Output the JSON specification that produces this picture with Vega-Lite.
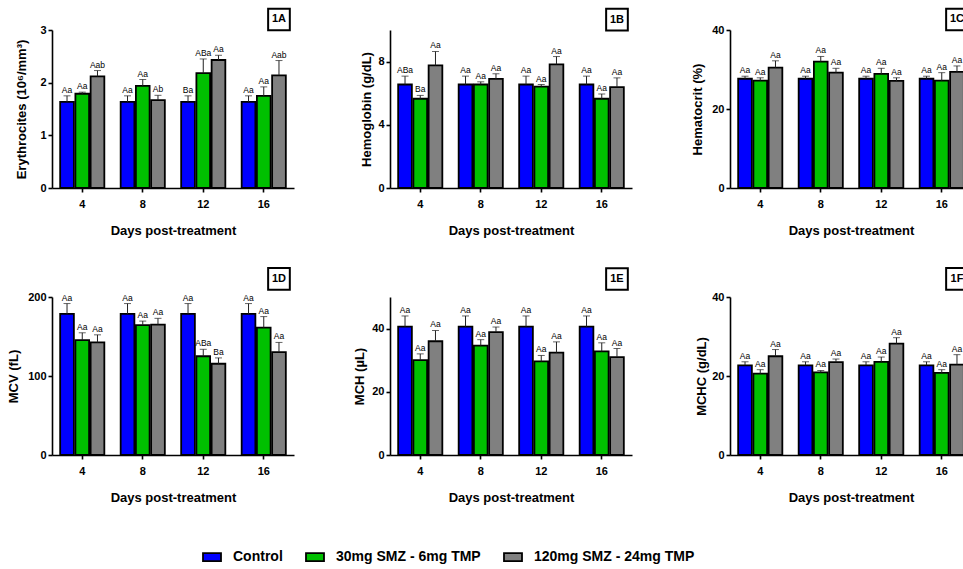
{
  "$schema": "https://vega.github.io/schema/vega-lite/v6.json",
  "padding": {"left": 7, "top": 4, "right": 0, "bottom": 0},
  "background": "white",
  "datasets": {
    "hemato": [
      {"panel": "A", "day": 4, "group": "Control", "mean": 1.635, "upper": 1.75, "letter": "Aa"},
      {"panel": "A", "day": 4, "group": "30mg SMZ - 6mg TMP", "mean": 1.79, "upper": 1.82, "letter": "Aa"},
      {"panel": "A", "day": 4, "group": "120mg SMZ - 24mg TMP", "mean": 2.12, "upper": 2.23, "letter": "Aab"},
      {"panel": "A", "day": 8, "group": "Control", "mean": 1.635, "upper": 1.75, "letter": "Aa"},
      {"panel": "A", "day": 8, "group": "30mg SMZ - 6mg TMP", "mean": 1.94, "upper": 2.06, "letter": "Aa"},
      {"panel": "A", "day": 8, "group": "120mg SMZ - 24mg TMP", "mean": 1.67, "upper": 1.76, "letter": "Ab"},
      {"panel": "A", "day": 12, "group": "Control", "mean": 1.635, "upper": 1.75, "letter": "Ba"},
      {"panel": "A", "day": 12, "group": "30mg SMZ - 6mg TMP", "mean": 2.18, "upper": 2.45, "letter": "ABa"},
      {"panel": "A", "day": 12, "group": "120mg SMZ - 24mg TMP", "mean": 2.43, "upper": 2.52, "letter": "Aa"},
      {"panel": "A", "day": 16, "group": "Control", "mean": 1.635, "upper": 1.75, "letter": "Aa"},
      {"panel": "A", "day": 16, "group": "30mg SMZ - 6mg TMP", "mean": 1.75, "upper": 1.92, "letter": "Aa"},
      {"panel": "A", "day": 16, "group": "120mg SMZ - 24mg TMP", "mean": 2.14, "upper": 2.42, "letter": "Aab"},

      {"panel": "B", "day": 4, "group": "Control", "mean": 6.55, "upper": 7.08, "letter": "ABa"},
      {"panel": "B", "day": 4, "group": "30mg SMZ - 6mg TMP", "mean": 5.65, "upper": 5.86, "letter": "Ba"},
      {"panel": "B", "day": 4, "group": "120mg SMZ - 24mg TMP", "mean": 7.76, "upper": 8.64, "letter": "Aa"},
      {"panel": "B", "day": 8, "group": "Control", "mean": 6.55, "upper": 7.08, "letter": "Aa"},
      {"panel": "B", "day": 8, "group": "30mg SMZ - 6mg TMP", "mean": 6.55, "upper": 6.72, "letter": "Aa"},
      {"panel": "B", "day": 8, "group": "120mg SMZ - 24mg TMP", "mean": 6.91, "upper": 7.23, "letter": "Aa"},
      {"panel": "B", "day": 12, "group": "Control", "mean": 6.55, "upper": 7.08, "letter": "Aa"},
      {"panel": "B", "day": 12, "group": "30mg SMZ - 6mg TMP", "mean": 6.42, "upper": 6.55, "letter": "Aa"},
      {"panel": "B", "day": 12, "group": "120mg SMZ - 24mg TMP", "mean": 7.83, "upper": 8.32, "letter": "Aa"},
      {"panel": "B", "day": 16, "group": "Control", "mean": 6.55, "upper": 7.08, "letter": "Aa"},
      {"panel": "B", "day": 16, "group": "30mg SMZ - 6mg TMP", "mean": 5.65, "upper": 5.95, "letter": "Aa"},
      {"panel": "B", "day": 16, "group": "120mg SMZ - 24mg TMP", "mean": 6.38, "upper": 6.97, "letter": "Aa"},

      {"panel": "C", "day": 4, "group": "Control", "mean": 27.66, "upper": 28.3, "letter": "Aa"},
      {"panel": "C", "day": 4, "group": "30mg SMZ - 6mg TMP", "mean": 27.2, "upper": 27.9, "letter": "Aa"},
      {"panel": "C", "day": 4, "group": "120mg SMZ - 24mg TMP", "mean": 30.5, "upper": 32.2, "letter": "Aa"},
      {"panel": "C", "day": 8, "group": "Control", "mean": 27.66, "upper": 28.3, "letter": "Aa"},
      {"panel": "C", "day": 8, "group": "30mg SMZ - 6mg TMP", "mean": 32.0, "upper": 33.3, "letter": "Aa"},
      {"panel": "C", "day": 8, "group": "120mg SMZ - 24mg TMP", "mean": 29.2, "upper": 30.3, "letter": "Aa"},
      {"panel": "C", "day": 12, "group": "Control", "mean": 27.66, "upper": 28.3, "letter": "Aa"},
      {"panel": "C", "day": 12, "group": "30mg SMZ - 6mg TMP", "mean": 28.9, "upper": 30.3, "letter": "Aa"},
      {"panel": "C", "day": 12, "group": "120mg SMZ - 24mg TMP", "mean": 27.1, "upper": 27.9, "letter": "Aa"},
      {"panel": "C", "day": 16, "group": "Control", "mean": 27.66, "upper": 28.3, "letter": "Aa"},
      {"panel": "C", "day": 16, "group": "30mg SMZ - 6mg TMP", "mean": 27.2, "upper": 29.2, "letter": "Aa"},
      {"panel": "C", "day": 16, "group": "120mg SMZ - 24mg TMP", "mean": 29.4, "upper": 30.9, "letter": "Aa"},

      {"panel": "D", "day": 4, "group": "Control", "mean": 178.6, "upper": 191.7, "letter": "Aa"},
      {"panel": "D", "day": 4, "group": "30mg SMZ - 6mg TMP", "mean": 145.5, "upper": 154.7, "letter": "Aa"},
      {"panel": "D", "day": 4, "group": "120mg SMZ - 24mg TMP", "mean": 142.5, "upper": 152.1, "letter": "Aa"},
      {"panel": "D", "day": 8, "group": "Control", "mean": 178.6, "upper": 191.7, "letter": "Aa"},
      {"panel": "D", "day": 8, "group": "30mg SMZ - 6mg TMP", "mean": 164.3, "upper": 169.5, "letter": "Aa"},
      {"panel": "D", "day": 8, "group": "120mg SMZ - 24mg TMP", "mean": 165.1, "upper": 173.0, "letter": "Aa"},
      {"panel": "D", "day": 12, "group": "Control", "mean": 178.6, "upper": 191.7, "letter": "Aa"},
      {"panel": "D", "day": 12, "group": "30mg SMZ - 6mg TMP", "mean": 125.0, "upper": 133.8, "letter": "ABa"},
      {"panel": "D", "day": 12, "group": "120mg SMZ - 24mg TMP", "mean": 115.5, "upper": 122.9, "letter": "Ba"},
      {"panel": "D", "day": 16, "group": "Control", "mean": 178.6, "upper": 191.7, "letter": "Aa"},
      {"panel": "D", "day": 16, "group": "30mg SMZ - 6mg TMP", "mean": 161.2, "upper": 175.2, "letter": "Aa"},
      {"panel": "D", "day": 16, "group": "120mg SMZ - 24mg TMP", "mean": 130.3, "upper": 142.5, "letter": "Aa"},

      {"panel": "E", "day": 4, "group": "Control", "mean": 40.6, "upper": 44.0, "letter": "Aa"},
      {"panel": "E", "day": 4, "group": "30mg SMZ - 6mg TMP", "mean": 30.0, "upper": 32.0, "letter": "Aa"},
      {"panel": "E", "day": 4, "group": "120mg SMZ - 24mg TMP", "mean": 36.0, "upper": 39.4, "letter": "Aa"},
      {"panel": "E", "day": 8, "group": "Control", "mean": 40.6, "upper": 44.0, "letter": "Aa"},
      {"panel": "E", "day": 8, "group": "30mg SMZ - 6mg TMP", "mean": 34.6, "upper": 36.5, "letter": "Aa"},
      {"panel": "E", "day": 8, "group": "120mg SMZ - 24mg TMP", "mean": 38.9, "upper": 40.5, "letter": "Aa"},
      {"panel": "E", "day": 12, "group": "Control", "mean": 40.6, "upper": 44.0, "letter": "Aa"},
      {"panel": "E", "day": 12, "group": "30mg SMZ - 6mg TMP", "mean": 29.6, "upper": 31.5, "letter": "Aa"},
      {"panel": "E", "day": 12, "group": "120mg SMZ - 24mg TMP", "mean": 32.4, "upper": 35.8, "letter": "Aa"},
      {"panel": "E", "day": 16, "group": "Control", "mean": 40.6, "upper": 44.0, "letter": "Aa"},
      {"panel": "E", "day": 16, "group": "30mg SMZ - 6mg TMP", "mean": 32.8, "upper": 35.5, "letter": "Aa"},
      {"panel": "E", "day": 16, "group": "120mg SMZ - 24mg TMP", "mean": 31.0, "upper": 33.7, "letter": "Aa"},

      {"panel": "F", "day": 4, "group": "Control", "mean": 22.7, "upper": 23.6, "letter": "Aa"},
      {"panel": "F", "day": 4, "group": "30mg SMZ - 6mg TMP", "mean": 20.6, "upper": 21.6, "letter": "Aa"},
      {"panel": "F", "day": 4, "group": "120mg SMZ - 24mg TMP", "mean": 25.0, "upper": 26.7, "letter": "Aa"},
      {"panel": "F", "day": 8, "group": "Control", "mean": 22.7, "upper": 23.6, "letter": "Aa"},
      {"panel": "F", "day": 8, "group": "30mg SMZ - 6mg TMP", "mean": 20.9, "upper": 21.4, "letter": "Aa"},
      {"panel": "F", "day": 8, "group": "120mg SMZ - 24mg TMP", "mean": 23.5, "upper": 24.3, "letter": "Aa"},
      {"panel": "F", "day": 12, "group": "Control", "mean": 22.7, "upper": 23.6, "letter": "Aa"},
      {"panel": "F", "day": 12, "group": "30mg SMZ - 6mg TMP", "mean": 23.6, "upper": 24.8, "letter": "Aa"},
      {"panel": "F", "day": 12, "group": "120mg SMZ - 24mg TMP", "mean": 28.2, "upper": 29.7, "letter": "Aa"},
      {"panel": "F", "day": 16, "group": "Control", "mean": 22.7, "upper": 23.6, "letter": "Aa"},
      {"panel": "F", "day": 16, "group": "30mg SMZ - 6mg TMP", "mean": 20.8, "upper": 21.6, "letter": "Aa"},
      {"panel": "F", "day": 16, "group": "120mg SMZ - 24mg TMP", "mean": 22.9, "upper": 25.4, "letter": "Aa"}
    ]
  },
  "data": {"name": "hemato"},
  "columns": 3,
  "spacing": {"column": 59, "row": 26},
  "concat": [
    {
      "width": 242, "height": 158,
      "transform": [{"filter": "datum.panel === 'A'"}],
      "layer": [
        {
          "encoding": {
            "x": {"field": "day", "type": "ordinal", "title": "Days post-treatment", "scale": {"paddingInner": 0.27, "paddingOuter": 0.135}},
            "xOffset": {"field": "group", "type": "nominal", "sort": ["Control", "30mg SMZ - 6mg TMP", "120mg SMZ - 24mg TMP"], "scale": {"paddingInner": 0.1}},
            "y": {"field": "mean", "type": "quantitative", "title": "Erythrocites (10⁶/mm³)", "scale": {"domain": [0, 3], "nice": false}, "axis": {"values": [0, 1, 2, 3], "titlePadding": 11, "labelOverlap": false, "labelSeparation": -40}}
          },
          "layer": [
            {"mark": {"type": "bar"}, "encoding": {"color": {"field": "group", "type": "nominal", "sort": ["Control", "30mg SMZ - 6mg TMP", "120mg SMZ - 24mg TMP"], "scale": {"domain": ["Control", "30mg SMZ - 6mg TMP", "120mg SMZ - 24mg TMP"], "range": ["#0000FF", "#00C000", "#808080"]}, "legend": {"title": null}}}},
            {"mark": {"type": "rule"}, "encoding": {"y2": {"field": "upper"}}},
            {"mark": {"type": "tick"}, "encoding": {"y": {"field": "upper", "type": "quantitative", "title": "Erythrocites (10⁶/mm³)", "axis": {"values": [0, 1, 2, 3], "titlePadding": 11, "labelOverlap": false, "labelSeparation": -40}}}},
            {"mark": {"type": "text"}, "encoding": {"y": {"field": "upper", "type": "quantitative", "title": "Erythrocites (10⁶/mm³)", "axis": {"values": [0, 1, 2, 3], "titlePadding": 11, "labelOverlap": false, "labelSeparation": -40}}, "text": {"field": "letter"}}}
          ]
        },
        {"data": {"values": [{"tag": "1A"}]}, "mark": {"type": "point", "shape": "square", "size": 470, "filled": true, "fill": "white", "stroke": "black", "strokeWidth": 2, "opacity": 1}, "encoding": {"x": {"datum": 16, "type": "ordinal"}, "xOffset": {"datum": "120mg SMZ - 24mg TMP", "type": "nominal"}, "y": {"datum": 3.2, "type": "quantitative"}}},
        {"data": {"values": [{"tag": "1A"}]}, "mark": {"type": "text", "fontSize": 11, "fontWeight": "bold", "baseline": "middle", "dy": 0}, "encoding": {"x": {"datum": 16, "type": "ordinal"}, "xOffset": {"datum": "120mg SMZ - 24mg TMP", "type": "nominal"}, "y": {"datum": 3.2, "type": "quantitative"}, "text": {"field": "tag"}}}
      ]
    },
    {
      "width": 242, "height": 158,
      "transform": [{"filter": "datum.panel === 'B'"}],
      "layer": [
        {
          "encoding": {
            "x": {"field": "day", "type": "ordinal", "title": "Days post-treatment", "scale": {"paddingInner": 0.27, "paddingOuter": 0.135}},
            "xOffset": {"field": "group", "type": "nominal", "sort": ["Control", "30mg SMZ - 6mg TMP", "120mg SMZ - 24mg TMP"], "scale": {"paddingInner": 0.1}},
            "y": {"field": "mean", "type": "quantitative", "title": "Hemoglobin (g/dL)", "scale": {"domain": [0, 10], "nice": false}, "axis": {"values": [0, 2, 4, 6, 8, 10], "titlePadding": 4, "labelOverlap": false, "labelSeparation": -40}}
          },
          "layer": [
            {"mark": {"type": "bar"}, "encoding": {"color": {"field": "group", "type": "nominal", "sort": ["Control", "30mg SMZ - 6mg TMP", "120mg SMZ - 24mg TMP"], "scale": {"domain": ["Control", "30mg SMZ - 6mg TMP", "120mg SMZ - 24mg TMP"], "range": ["#0000FF", "#00C000", "#808080"]}, "legend": {"title": null}}}},
            {"mark": {"type": "rule"}, "encoding": {"y2": {"field": "upper"}}},
            {"mark": {"type": "tick"}, "encoding": {"y": {"field": "upper", "type": "quantitative", "title": "Hemoglobin (g/dL)", "axis": {"values": [0, 2, 4, 6, 8, 10], "titlePadding": 4, "labelOverlap": false, "labelSeparation": -40}}}},
            {"mark": {"type": "text"}, "encoding": {"y": {"field": "upper", "type": "quantitative", "title": "Hemoglobin (g/dL)", "axis": {"values": [0, 2, 4, 6, 8, 10], "titlePadding": 4, "labelOverlap": false, "labelSeparation": -40}}, "text": {"field": "letter"}}}
          ]
        },
        {"data": {"values": [{"tag": "1B"}]}, "mark": {"type": "point", "shape": "square", "size": 470, "filled": true, "fill": "white", "stroke": "black", "strokeWidth": 2, "opacity": 1}, "encoding": {"x": {"datum": 16, "type": "ordinal"}, "xOffset": {"datum": "120mg SMZ - 24mg TMP", "type": "nominal"}, "y": {"datum": 10.66, "type": "quantitative"}}},
        {"data": {"values": [{"tag": "1B"}]}, "mark": {"type": "text", "fontSize": 11, "fontWeight": "bold", "baseline": "middle", "dy": 0}, "encoding": {"x": {"datum": 16, "type": "ordinal"}, "xOffset": {"datum": "120mg SMZ - 24mg TMP", "type": "nominal"}, "y": {"datum": 10.66, "type": "quantitative"}, "text": {"field": "tag"}}}
      ]
    },
    {
      "width": 242, "height": 158,
      "transform": [{"filter": "datum.panel === 'C'"}],
      "layer": [
        {
          "encoding": {
            "x": {"field": "day", "type": "ordinal", "title": "Days post-treatment", "scale": {"paddingInner": 0.27, "paddingOuter": 0.135}},
            "xOffset": {"field": "group", "type": "nominal", "sort": ["Control", "30mg SMZ - 6mg TMP", "120mg SMZ - 24mg TMP"], "scale": {"paddingInner": 0.1}},
            "y": {"field": "mean", "type": "quantitative", "title": "Hematocrit (%)", "scale": {"domain": [0, 40], "nice": false}, "axis": {"values": [0, 10, 20, 30, 40], "titlePadding": 7, "labelOverlap": false, "labelSeparation": -40}}
          },
          "layer": [
            {"mark": {"type": "bar"}, "encoding": {"color": {"field": "group", "type": "nominal", "sort": ["Control", "30mg SMZ - 6mg TMP", "120mg SMZ - 24mg TMP"], "scale": {"domain": ["Control", "30mg SMZ - 6mg TMP", "120mg SMZ - 24mg TMP"], "range": ["#0000FF", "#00C000", "#808080"]}, "legend": {"title": null}}}},
            {"mark": {"type": "rule"}, "encoding": {"y2": {"field": "upper"}}},
            {"mark": {"type": "tick"}, "encoding": {"y": {"field": "upper", "type": "quantitative", "title": "Hematocrit (%)", "axis": {"values": [0, 10, 20, 30, 40], "titlePadding": 7, "labelOverlap": false, "labelSeparation": -40}}}},
            {"mark": {"type": "text"}, "encoding": {"y": {"field": "upper", "type": "quantitative", "title": "Hematocrit (%)", "axis": {"values": [0, 10, 20, 30, 40], "titlePadding": 7, "labelOverlap": false, "labelSeparation": -40}}, "text": {"field": "letter"}}}
          ]
        },
        {"data": {"values": [{"tag": "1C"}]}, "mark": {"type": "point", "shape": "square", "size": 470, "filled": true, "fill": "white", "stroke": "black", "strokeWidth": 2, "opacity": 1}, "encoding": {"x": {"datum": 16, "type": "ordinal"}, "xOffset": {"datum": "120mg SMZ - 24mg TMP", "type": "nominal"}, "y": {"datum": 42.66, "type": "quantitative"}}},
        {"data": {"values": [{"tag": "1C"}]}, "mark": {"type": "text", "fontSize": 11, "fontWeight": "bold", "baseline": "middle", "dy": 0}, "encoding": {"x": {"datum": 16, "type": "ordinal"}, "xOffset": {"datum": "120mg SMZ - 24mg TMP", "type": "nominal"}, "y": {"datum": 42.66, "type": "quantitative"}, "text": {"field": "tag"}}}
      ]
    },
    {
      "width": 242, "height": 158,
      "transform": [{"filter": "datum.panel === 'D'"}],
      "layer": [
        {
          "encoding": {
            "x": {"field": "day", "type": "ordinal", "title": "Days post-treatment", "scale": {"paddingInner": 0.27, "paddingOuter": 0.135}},
            "xOffset": {"field": "group", "type": "nominal", "sort": ["Control", "30mg SMZ - 6mg TMP", "120mg SMZ - 24mg TMP"], "scale": {"paddingInner": 0.1}},
            "y": {"field": "mean", "type": "quantitative", "title": "MCV (fL)", "scale": {"domain": [0, 200], "nice": false}, "axis": {"values": [0, 50, 100, 150, 200], "titlePadding": 7, "labelOverlap": false, "labelSeparation": -40}}
          },
          "layer": [
            {"mark": {"type": "bar"}, "encoding": {"color": {"field": "group", "type": "nominal", "sort": ["Control", "30mg SMZ - 6mg TMP", "120mg SMZ - 24mg TMP"], "scale": {"domain": ["Control", "30mg SMZ - 6mg TMP", "120mg SMZ - 24mg TMP"], "range": ["#0000FF", "#00C000", "#808080"]}, "legend": {"title": null}}}},
            {"mark": {"type": "rule"}, "encoding": {"y2": {"field": "upper"}}},
            {"mark": {"type": "tick"}, "encoding": {"y": {"field": "upper", "type": "quantitative", "title": "MCV (fL)", "axis": {"values": [0, 50, 100, 150, 200], "titlePadding": 7, "labelOverlap": false, "labelSeparation": -40}}}},
            {"mark": {"type": "text"}, "encoding": {"y": {"field": "upper", "type": "quantitative", "title": "MCV (fL)", "axis": {"values": [0, 50, 100, 150, 200], "titlePadding": 7, "labelOverlap": false, "labelSeparation": -40}}, "text": {"field": "letter"}}}
          ]
        },
        {"data": {"values": [{"tag": "1D"}]}, "mark": {"type": "point", "shape": "square", "size": 470, "filled": true, "fill": "white", "stroke": "black", "strokeWidth": 2, "opacity": 1}, "encoding": {"x": {"datum": 16, "type": "ordinal"}, "xOffset": {"datum": "120mg SMZ - 24mg TMP", "type": "nominal"}, "y": {"datum": 223, "type": "quantitative"}}},
        {"data": {"values": [{"tag": "1D"}]}, "mark": {"type": "text", "fontSize": 11, "fontWeight": "bold", "baseline": "middle", "dy": 0}, "encoding": {"x": {"datum": 16, "type": "ordinal"}, "xOffset": {"datum": "120mg SMZ - 24mg TMP", "type": "nominal"}, "y": {"datum": 223, "type": "quantitative"}, "text": {"field": "tag"}}}
      ]
    },
    {
      "width": 242, "height": 158,
      "transform": [{"filter": "datum.panel === 'E'"}],
      "layer": [
        {
          "encoding": {
            "x": {"field": "day", "type": "ordinal", "title": "Days post-treatment", "scale": {"paddingInner": 0.27, "paddingOuter": 0.135}},
            "xOffset": {"field": "group", "type": "nominal", "sort": ["Control", "30mg SMZ - 6mg TMP", "120mg SMZ - 24mg TMP"], "scale": {"paddingInner": 0.1}},
            "y": {"field": "mean", "type": "quantitative", "title": "MCH (µL)", "scale": {"domain": [0, 50], "nice": false}, "axis": {"values": [0, 10, 20, 30, 40, 50], "titlePadding": 5, "labelOverlap": false, "labelSeparation": -40}}
          },
          "layer": [
            {"mark": {"type": "bar"}, "encoding": {"color": {"field": "group", "type": "nominal", "sort": ["Control", "30mg SMZ - 6mg TMP", "120mg SMZ - 24mg TMP"], "scale": {"domain": ["Control", "30mg SMZ - 6mg TMP", "120mg SMZ - 24mg TMP"], "range": ["#0000FF", "#00C000", "#808080"]}, "legend": {"title": null}}}},
            {"mark": {"type": "rule"}, "encoding": {"y2": {"field": "upper"}}},
            {"mark": {"type": "tick"}, "encoding": {"y": {"field": "upper", "type": "quantitative", "title": "MCH (µL)", "axis": {"values": [0, 10, 20, 30, 40, 50], "titlePadding": 5, "labelOverlap": false, "labelSeparation": -40}}}},
            {"mark": {"type": "text"}, "encoding": {"y": {"field": "upper", "type": "quantitative", "title": "MCH (µL)", "axis": {"values": [0, 10, 20, 30, 40, 50], "titlePadding": 5, "labelOverlap": false, "labelSeparation": -40}}, "text": {"field": "letter"}}}
          ]
        },
        {"data": {"values": [{"tag": "1E"}]}, "mark": {"type": "point", "shape": "square", "size": 470, "filled": true, "fill": "white", "stroke": "black", "strokeWidth": 2, "opacity": 1}, "encoding": {"x": {"datum": 16, "type": "ordinal"}, "xOffset": {"datum": "120mg SMZ - 24mg TMP", "type": "nominal"}, "y": {"datum": 55.7, "type": "quantitative"}}},
        {"data": {"values": [{"tag": "1E"}]}, "mark": {"type": "text", "fontSize": 11, "fontWeight": "bold", "baseline": "middle", "dy": 0}, "encoding": {"x": {"datum": 16, "type": "ordinal"}, "xOffset": {"datum": "120mg SMZ - 24mg TMP", "type": "nominal"}, "y": {"datum": 55.7, "type": "quantitative"}, "text": {"field": "tag"}}}
      ]
    },
    {
      "width": 242, "height": 158,
      "transform": [{"filter": "datum.panel === 'F'"}],
      "layer": [
        {
          "encoding": {
            "x": {"field": "day", "type": "ordinal", "title": "Days post-treatment", "scale": {"paddingInner": 0.27, "paddingOuter": 0.135}},
            "xOffset": {"field": "group", "type": "nominal", "sort": ["Control", "30mg SMZ - 6mg TMP", "120mg SMZ - 24mg TMP"], "scale": {"paddingInner": 0.1}},
            "y": {"field": "mean", "type": "quantitative", "title": "MCHC (g/dL)", "scale": {"domain": [0, 40], "nice": false}, "axis": {"values": [0, 10, 20, 30, 40], "titlePadding": 3, "labelOverlap": false, "labelSeparation": -40}}
          },
          "layer": [
            {"mark": {"type": "bar"}, "encoding": {"color": {"field": "group", "type": "nominal", "sort": ["Control", "30mg SMZ - 6mg TMP", "120mg SMZ - 24mg TMP"], "scale": {"domain": ["Control", "30mg SMZ - 6mg TMP", "120mg SMZ - 24mg TMP"], "range": ["#0000FF", "#00C000", "#808080"]}, "legend": {"title": null}}}},
            {"mark": {"type": "rule"}, "encoding": {"y2": {"field": "upper"}}},
            {"mark": {"type": "tick"}, "encoding": {"y": {"field": "upper", "type": "quantitative", "title": "MCHC (g/dL)", "axis": {"values": [0, 10, 20, 30, 40], "titlePadding": 3, "labelOverlap": false, "labelSeparation": -40}}}},
            {"mark": {"type": "text"}, "encoding": {"y": {"field": "upper", "type": "quantitative", "title": "MCHC (g/dL)", "axis": {"values": [0, 10, 20, 30, 40], "titlePadding": 3, "labelOverlap": false, "labelSeparation": -40}}, "text": {"field": "letter"}}}
          ]
        },
        {"data": {"values": [{"tag": "1F"}]}, "mark": {"type": "point", "shape": "square", "size": 470, "filled": true, "fill": "white", "stroke": "black", "strokeWidth": 2, "opacity": 1}, "encoding": {"x": {"datum": 16, "type": "ordinal"}, "xOffset": {"datum": "120mg SMZ - 24mg TMP", "type": "nominal"}, "y": {"datum": 44.6, "type": "quantitative"}}},
        {"data": {"values": [{"tag": "1F"}]}, "mark": {"type": "text", "fontSize": 11, "fontWeight": "bold", "baseline": "middle", "dy": 0}, "encoding": {"x": {"datum": 16, "type": "ordinal"}, "xOffset": {"datum": "120mg SMZ - 24mg TMP", "type": "nominal"}, "y": {"datum": 44.6, "type": "quantitative"}, "text": {"field": "tag"}}}
      ]
    }
  ],
  "config": {
    "font": "Liberation Sans",
    "view": {"stroke": null},
    "axis": {"grid": false, "domainColor": "black", "domainWidth": 1.6, "tickColor": "black", "tickWidth": 1.6, "tickSize": 4, "labelFont": "Liberation Sans", "labelFontWeight": "bold", "labelFontSize": 11, "labelColor": "black", "labelPadding": 2, "labelOverlap": false, "labelSeparation": -40, "titleFont": "Liberation Sans", "titleFontWeight": "bold", "titleFontSize": 13, "titleColor": "black"},
    "axisX": {"labelAngle": 0, "titlePadding": 15, "labelPadding": 6},
    "bar": {"stroke": "black", "strokeWidth": 1.8},
    "rule": {"color": "#222222", "strokeWidth": 1},
    "tick": {"color": "#222222", "thickness": 1, "size": 7},
    "text": {"fontSize": 8.5, "baseline": "bottom", "dy": -1, "color": "black", "font": "Liberation Sans"},
    "legend": {"orient": "none", "legendX": 150, "legendY": 517, "direction": "horizontal", "labelFont": "Liberation Sans", "labelFontSize": 14, "labelFontWeight": "bold", "labelColor": "black", "symbolType": "M-1,-0.45H1V0.45H-1Z", "symbolSize": 324, "symbolStrokeColor": "black", "symbolStrokeWidth": 1.5, "symbolOpacity": 1, "labelOffset": 11, "columnPadding": 19, "labelLimit": 400}
  }
}
